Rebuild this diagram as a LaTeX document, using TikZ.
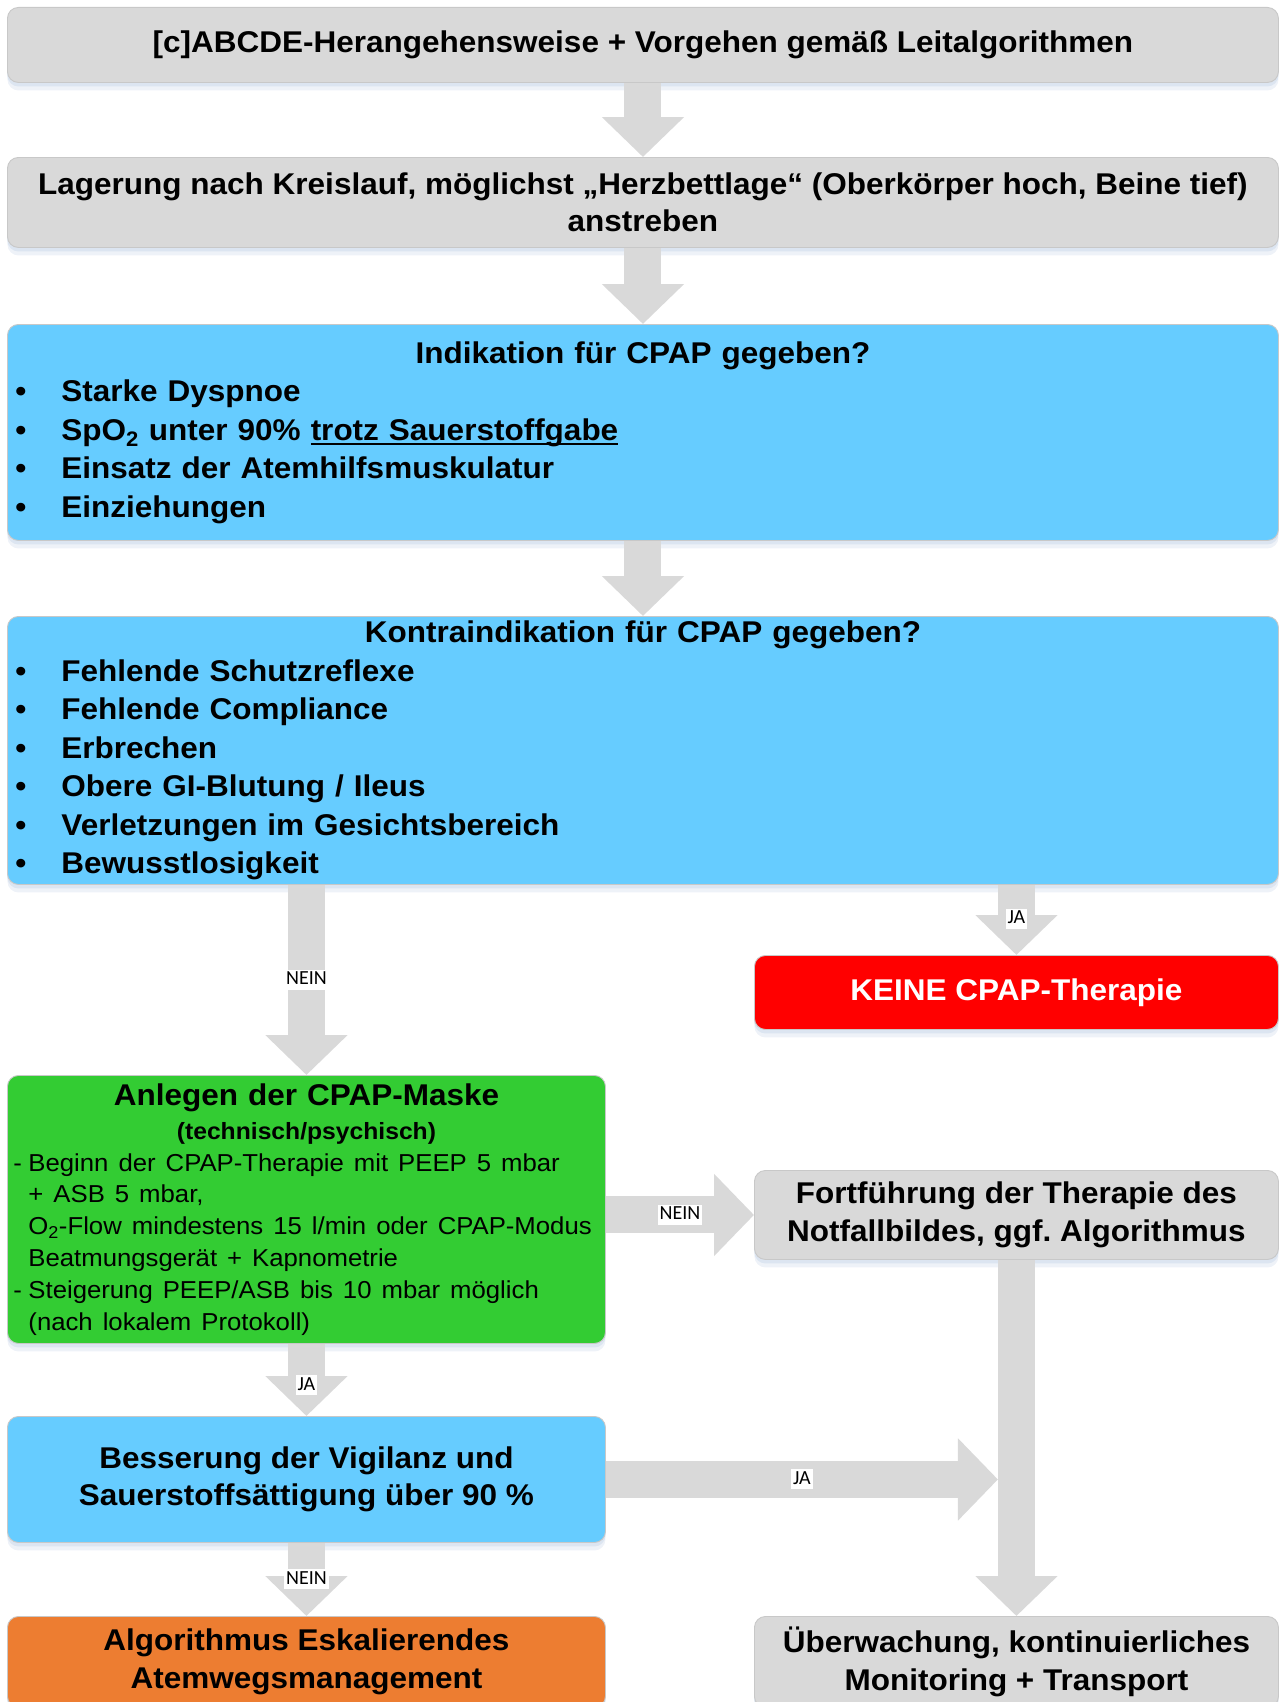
\documentclass[tikz,border=0pt]{standalone}
\usepackage{fontspec}
\setmainfont{Liberation Sans}[FakeStretch=1.05]
\newfontfamily\bodyfont{Liberation Sans}[FakeStretch=1.05]
\newfontfamily\lblfont{Carlito}
\usetikzlibrary{arrows.meta,shadows}
\definecolor{boxgray}{HTML}{D9D9D9}
\definecolor{arrgray}{HTML}{D9D9D9}
\definecolor{boxblue}{HTML}{66CCFF}
\definecolor{boxred}{HTML}{FF0000}
\definecolor{boxgreen}{HTML}{33CC33}
\definecolor{boxorange}{HTML}{ED7D31}
\definecolor{bordc}{HTML}{C8C8C8}
\definecolor{shdA}{HTML}{DCE5F1}
\definecolor{shdB}{HTML}{EEF2F8}
\frenchspacing
\newcommand\bul{\makebox[46pt][l]{\textbullet}}
\newcommand\myul[1]{\setbox0=\hbox{#1}\rlap{\rule[-4.5pt]{\wd0}{2pt}}\box0}
\newcommand\gline[1]{\mbox{\hspace*{15pt}#1}\par}
\newcommand\dline[1]{\mbox{\makebox[15pt][l]{-}#1}\par}
\tikzset{
  shd/.style={general shadow={shadow yshift=-8pt, fill=shdB},
              general shadow={shadow yshift=-4pt, fill=shdA}},
  box/.style={rounded corners=11pt, draw=bordc, line width=0.9pt, inner sep=0pt,
              anchor=north west, shd, align=center,
              font=\bfseries\fontsize{30}{37.5}\selectfont},
  listbox/.style={box, fill=boxblue, minimum width=1271pt, text width=1255pt,
              inner xsep=8pt, align=left,
              font=\bfseries\fontsize{30}{38.5}\selectfont},
  bigarrow/.style={draw=arrgray, line width=37pt,
              -{Triangle[length=40pt,width=80pt]}},
  lbl/.style={fill=white, font=\lblfont\mdseries\fontsize{20}{22}\selectfont,
              inner xsep=2pt, inner ysep=0pt, text height=15pt, text depth=5pt}
}
\begin{document}
\begin{tikzpicture}[x=1pt,y=-1pt]
\clip (0,0) rectangle (1284,1702);
\useasboundingbox (0,0) rectangle (1284,1702);

\node[box, fill=boxgray, minimum width=1271pt, minimum height=75pt] (b1) at (7,7)
  {{[}c{]}ABCDE-Herangehensweise + Vorgehen gemäß Leitalgorithmen};

\node[box, fill=boxgray, minimum width=1271pt, minimum height=90pt] (b2) at (7,157)
  {Lagerung nach Kreislauf, möglichst „Herzbettlage“ (Oberkörper hoch, Beine tief)\\anstreben};

\node[listbox, minimum height=216pt] (b3) at (7,324) {%
  {\centering Indikation für CPAP gegeben?\par}
  \bul Starke Dyspnoe\par
  \bul SpO\textsubscript{2} unter 90\% \myul{trotz Sauerstoffgabe}\par
  \bul Einsatz der Atemhilfsmuskulatur\par
  \bul Einziehungen\par};

\node[listbox, minimum height=268pt] (b4) at (7,616) {%
  {\centering Kontraindikation für CPAP gegeben?\par}
  \bul Fehlende Schutzreflexe\par
  \bul Fehlende Compliance\par
  \bul Erbrechen\par
  \bul Obere GI-Blutung / Ileus\par
  \bul Verletzungen im Gesichtsbereich\par
  \bul Bewusstlosigkeit\par};

\node[box, fill=boxred, text=white, minimum width=524pt, minimum height=74pt] (red) at (754,955)
  {KEINE CPAP-Therapie};

\node[box, fill=boxgreen, minimum width=598pt, minimum height=268pt, text width=586pt,
      inner xsep=6pt, align=left] (green) at (7,1075) {%
  {\centering\fontsize{30}{34}\selectfont Anlegen der CPAP-Maske\par}
  {\centering\fontsize{23.5}{34}\selectfont (technisch/psychisch)\par}
  {\bodyfont\mdseries\fontsize{24.5}{31.8}\selectfont\raggedright
  \dline{Beginn der CPAP-Therapie mit PEEP 5 mbar}
  \gline{+ ASB 5 mbar,}
  \gline{O\textsubscript{2}-Flow mindestens 15 l/min oder CPAP-Modus}
  \gline{Beatmungsgerät + Kapnometrie}
  \dline{Steigerung PEEP/ASB bis 10 mbar möglich}
  \gline{(nach lokalem Protokoll)}}};

\node[box, fill=boxgray, minimum width=524pt, minimum height=89pt] (fort) at (754,1170)
  {Fortführung der Therapie des\\Notfallbildes, ggf. Algorithmus};

\node[box, fill=boxblue, minimum width=598pt, minimum height=126pt] (bess) at (7,1416)
  {Besserung der Vigilanz und\\Sauerstoffsättigung über 90 \%};

\node[box, fill=boxorange, minimum width=598pt, minimum height=91pt] (orange) at (7,1616)
  {Algorithmus Eskalierendes\\Atemwegsmanagement};

\node[box, fill=boxgray, minimum width=524pt, minimum height=91pt] (ueber) at (754,1616)
  {Überwachung, kontinuierliches\\Monitoring + Transport};

\path (fort.south) ++(-18.5,0) coordinate (jx);
\coordinate (join) at (jx |- bess.east);

\draw[bigarrow] (b1.south) -- (b2.north);
\draw[bigarrow] (b2.south) -- (b3.north);
\draw[bigarrow] (b3.south) -- (b4.north);
\draw[bigarrow] (b4.south -| green.north) -- node[lbl] (l1) {NEIN} (green.north);
\draw[bigarrow] (b4.south -| red.north) -- node[lbl, pos=0.48] (l2) {JA} (red.north);
\draw[bigarrow] (green.east |- fort.west) -- node[lbl] (l3) {NEIN} (fort.west);
\draw[bigarrow] (green.south) -- node[lbl, pos=0.57] (l4) {JA} (bess.north);
\draw[bigarrow] (fort.south) -- (ueber.north);
\draw[bigarrow] (bess.east) -- node[lbl] (l5) {JA} (join);
\draw[bigarrow] (bess.south) -- node[lbl] (l6) {NEIN} (orange.north);
\end{tikzpicture}
\end{document}
